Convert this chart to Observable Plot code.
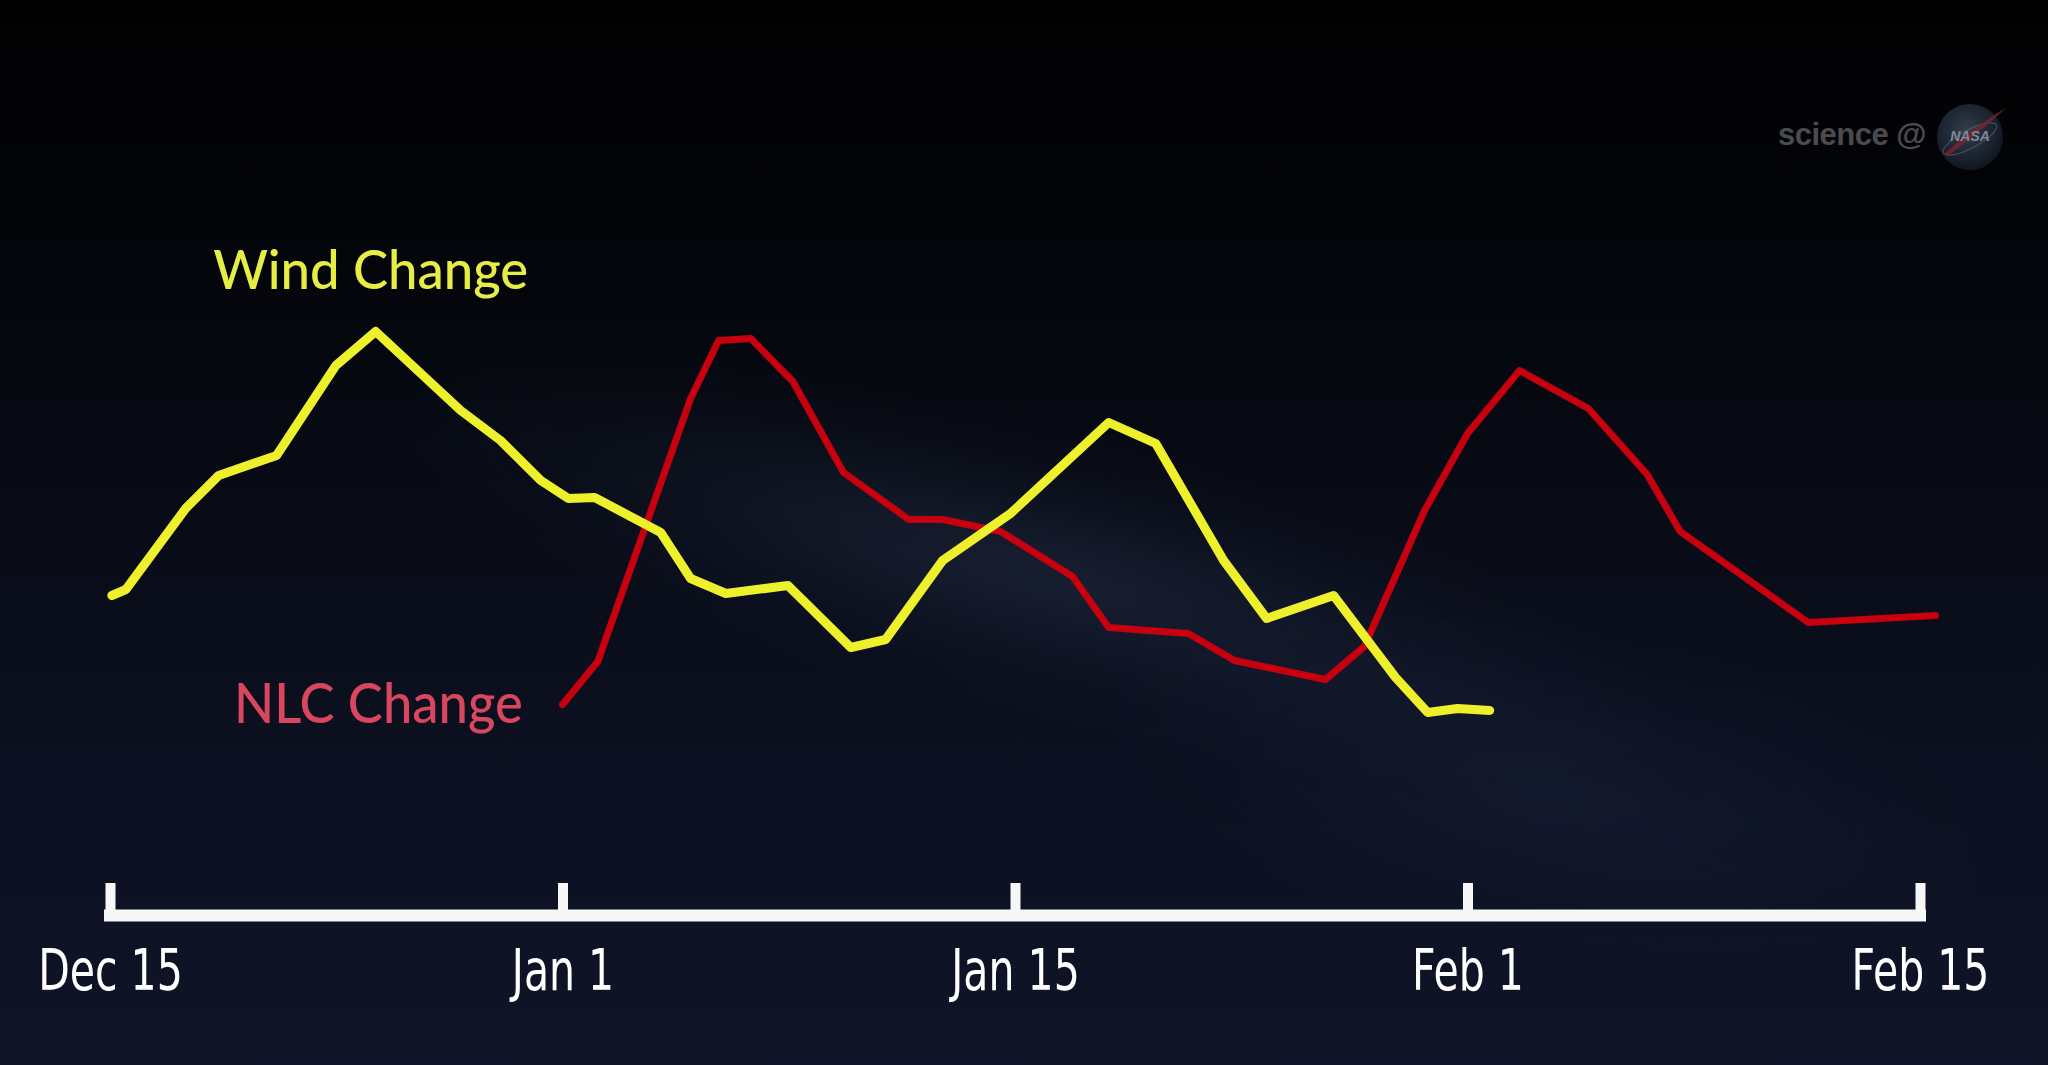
<!DOCTYPE html>
<html>
<head>
<meta charset="utf-8">
<script src="https://cdn.jsdelivr.net/npm/d3@7"></script>
<script src="https://cdn.jsdelivr.net/npm/@observablehq/plot@0.6"></script>
<style>
html, body { margin: 0; padding: 0; width: 2048px; height: 1065px; overflow: hidden; }
body {
  background: linear-gradient(180deg, #010102 0%, #030408 18%, #070a13 42%, #0b0f1e 66%, #0f1428 100%);
  position: relative;
}
#haze1 { position: absolute; left: 380px; top: 440px; width: 1300px; height: 260px;
  background: radial-gradient(ellipse at center, rgba(60,78,110,0.30), rgba(40,55,85,0.12) 45%, rgba(0,0,0,0) 72%);
  transform: rotate(14deg); filter: blur(20px); }
#haze2 { position: absolute; left: 1100px; top: 640px; width: 900px; height: 300px;
  background: radial-gradient(ellipse at center, rgba(40,52,85,0.25), rgba(0,0,0,0) 70%);
  transform: rotate(10deg); filter: blur(25px); }
#chart { position: absolute; left: 0; top: 0; }
#wm { position: absolute; left: 1778px; top: 100px; height: 70px; display: flex; align-items: center; }
#wm span { font-family: "Liberation Sans", Arial, sans-serif; font-weight: bold; font-size: 31px; color: #4b4b4e; letter-spacing: -0.5px; margin-right: 8px; }
</style>
</head>
<body>
<div id="haze1"></div>
<div id="haze2"></div>
<div id="chart"></div>
<div id="wm"><span>science @</span>
<svg width="76" height="70" viewBox="0 0 76 70">
  <defs>
    <radialGradient id="globe" cx="45%" cy="40%" r="60%">
      <stop offset="0%" stop-color="#3a4858"/>
      <stop offset="100%" stop-color="#121a27"/>
    </radialGradient>
  </defs>
  <circle cx="36" cy="37" r="33" fill="url(#globe)" opacity="0.85"/>
  <ellipse cx="36" cy="39" rx="30" ry="9" fill="none" stroke="#6d7888" stroke-width="1.2" transform="rotate(-28 36 39)" opacity="0.5"/>
  <path d="M10,54 C24,42 44,24 72,8 C50,28 32,42 14,56 Z" fill="#7a2230" opacity="0.85"/>
  <text x="36" y="41" text-anchor="middle" font-family="Liberation Sans, Arial" font-weight="bold" font-style="italic" font-size="14" fill="#7f8898">NASA</text>
</svg></div>
<script>
// Axis tick labels (evenly spaced ticks in the original)
const tickLabels = ["Dec 15", "Jan 1", "Jan 15", "Feb 1", "Feb 15"];
const tickIndex = [0, 1, 2, 3, 4];

// Wind Change series (x in tick units, y in relative change units)
const windX = [0.003, 0.034, 0.166, 0.239, 0.367, 0.498, 0.586, 0.774, 0.862, 0.951, 1.012, 1.070, 1.216, 1.282, 1.360, 1.497, 1.636, 1.713, 1.839, 1.989, 2.206, 2.310, 2.460, 2.555, 2.703, 2.840, 2.911, 2.977, 3.048];
const windY = [31.25, 32.75, 53, 61.25, 66.25, 88.75, 97.25, 77.5, 70, 60, 55.5, 55.75, 47, 35.5, 31.75, 33.75, 18.25, 20.25, 40, 51.75, 74.5, 69.25, 40, 25.5, 31.25, 10.75, 2, 3, 2.5];

// NLC Change series
const nlcX = [0.999, 1.077, 1.282, 1.344, 1.415, 1.508, 1.620, 1.764, 1.839, 1.967, 2.126, 2.206, 2.382, 2.484, 2.685, 2.771, 2.904, 2.999, 3.114, 3.266, 3.396, 3.469, 3.752, 4.033];
const nlcY = [4, 14.75, 80.5, 95, 95.5, 84.75, 62, 50.25, 50.25, 47.25, 36, 23.25, 21.75, 15, 10.25, 18.5, 52.5, 71.75, 87.5, 78, 61.5, 47.25, 24.5, 26.25];

const seriesNames = ["Wind Change", "NLC Change"];

const wind = windX.map((x, i) => ({x, y: windY[i]}));
const nlc = nlcX.map((x, i) => ({x, y: nlcY[i]}));

const yBase = -48.75;   // baseline of the time axis bar
const tickLen = 8;      // tick height in y units

const chart = Plot.plot({
  width: 2048,
  height: 1065,
  marginLeft: 110,
  marginRight: 128,
  marginTop: 120,
  marginBottom: 150,
  style: { background: "transparent", color: "#ffffff", overflow: "visible" },
  x: { domain: [0, 4], axis: null },
  y: { domain: [yBase, 150], axis: null },
  marks: [
    Plot.ruleY([yBase], { x1: tickIndex[0], x2: tickIndex[tickIndex.length - 1], stroke: "#f7f7f7", strokeWidth: 12, strokeLinecap: "square" }),
    Plot.ruleX(tickIndex, { x: d => d, y1: yBase, y2: yBase + tickLen, stroke: "#f7f7f7", strokeWidth: 10 }),
    Plot.axisX(tickIndex, {
      label: null,
      tickSize: 0, tickPadding: 34,
      tickFormat: i => tickLabels[i],
      fontSize: 57, fontFamily: "'DejaVu Sans', sans-serif",
      fill: "#ffffff"
    }),
    Plot.line(nlc, { x: "x", y: "y", stroke: "#c6000e", strokeWidth: 7, strokeLinejoin: "round", strokeLinecap: "round" }),
    Plot.line(wind, { x: "x", y: "y", stroke: "#eef02c", strokeWidth: 9, strokeLinejoin: "round", strokeLinecap: "round" }),
    Plot.text([seriesNames[0]], { x: 0.575, y: 108, text: d => d, lineAnchor: "bottom", textAnchor: "middle", fill: "#e6ee45", fontSize: 54, fontWeight: 500, fontFamily: "Lato, 'Open Sans', sans-serif" }),
    Plot.text([seriesNames[1]], { x: 0.592, y: -0.5, text: d => d, lineAnchor: "bottom", textAnchor: "middle", fill: "#d8475e", fontSize: 56, fontWeight: 500, fontFamily: "Lato, 'Open Sans', sans-serif" })
  ]
});

document.getElementById("chart").appendChild(chart);

// match the text widths of the original (condensed tick labels)
d3.select(chart).selectAll("text").each(function() {
  const t = this.textContent;
  if (t === "Wind Change") { this.setAttribute("textLength", 315); this.setAttribute("lengthAdjust", "spacingAndGlyphs"); }
  else if (t === "NLC Change") { this.setAttribute("textLength", 289); this.setAttribute("lengthAdjust", "spacingAndGlyphs"); }
  else if (tickLabels.includes(t)) {
    const w = this.getComputedTextLength();
    this.setAttribute("textLength", (w * 0.72).toFixed(1));
    this.setAttribute("lengthAdjust", "spacingAndGlyphs");
  }
});
</script>
</body>
</html>
